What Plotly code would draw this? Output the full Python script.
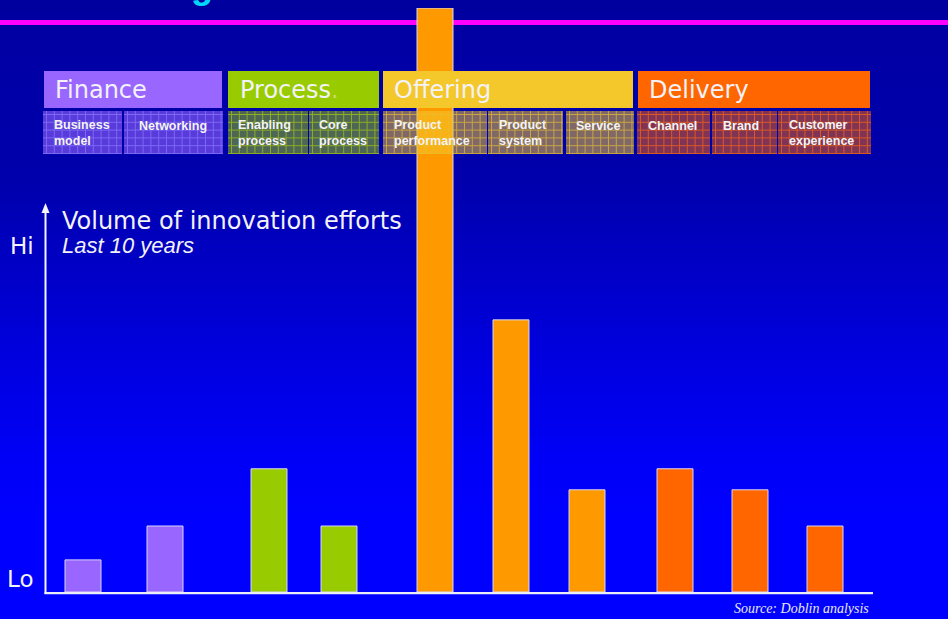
import plotly.graph_objects as go

# ---------------- data ----------------
groups = ["Finance", "Process", "Offering", "Delivery"]
group_types = [
    ["Business<br>model", "Networking"],
    ["Enabling<br>process", "Core<br>process"],
    ["Product<br>performance", "Product<br>system", "Service"],
    ["Channel", "Brand", "Customer<br>experience"],
]
# Volume of innovation efforts, last 10 years (relative units, Lo=0 .. top bar=100)
finance_vals = [5.5, 11.3]
process_vals = [21.1, 11.3]
offering_vals = [100.0, 46.6, 17.5]
delivery_vals = [21.1, 17.5, 11.3]
group_vals = [finance_vals, process_vals, offering_vals, delivery_vals]

axis_title = "Volume of innovation efforts"
axis_sub = "Last 10 years"
hi_label, lo_label = "Hi", "Lo"
source_text = "Source: Doblin analysis"

# ---------------- styles / layout ----------------
W, H = 948, 619
def px(x): return x / W
def py(y): return 1 - y / H

group_colors = ["#9966FF", "#99CC00", "#F4C82A", "#FF6600"]
bar_colors = ["#9966FF", "#99CC00", "#FF9900", "#FF6600"]
grid_colors = ["#8C7CFF", "#A8CC10", "#E8C030", "#FF6A10"]
sub_fill = ["rgba(153,102,255,0.58)", "rgba(153,204,0,0.50)",
            "rgba(244,200,42,0.52)", "rgba(255,102,0,0.50)"]

# plot x-domains (pixels) for each group subplot, bar width in category units
dom_px = [(42, 206), (234, 374), (397, 625), (637.5, 862.5)]
bar_w = [36 / 82, 36 / 70, 36 / 76, 36 / 75]
y_dom = [py(592), py(8)]

# header boxes and sub boxes (pixels)
head_px = [(44, 222), (228, 379), (383, 633), (638, 870)]
head_y = (71, 108)
head_text_x = [55, 240, 394, 649]
sub_px = [
    [(43, 122), (124, 223)],
    [(228, 308), (309, 379)],
    [(383, 487), (488, 563), (566, 634)],
    [(637, 710), (712, 777), (778, 871)],
]
sub_y = (111, 154)
sub_text_x = [[54, 139], [238, 319], [394, 499, 576], [648, 723, 789]]

fig = go.Figure()

# bars
for i, (cats, vals) in enumerate(zip(group_types, group_vals)):
    sfx = "" if i == 0 else str(i + 1)
    fig.add_trace(go.Bar(
        x=cats, y=vals, xaxis="x" + sfx, yaxis="y" + sfx,
        width=bar_w[i],
        marker=dict(color=bar_colors[i], line=dict(color="#D8D4F4", width=1)),
        hoverinfo="x+y",
    ))

layout = dict(
    width=W, height=H, margin=dict(l=0, r=0, t=0, b=0),
    paper_bgcolor="#0000FF", plot_bgcolor="rgba(0,0,0,0)",
    showlegend=False,
)
for i in range(4):
    sfx = "" if i == 0 else str(i + 1)
    n = len(group_types[i])
    layout["xaxis" + sfx] = dict(
        domain=[px(dom_px[i][0]), px(dom_px[i][1])], type="category",
        range=[-0.5, n - 0.5], visible=False, anchor="y" + sfx,
        categoryorder="array", categoryarray=group_types[i])
    layout["yaxis" + sfx] = dict(
        domain=y_dom, range=[0, 100], visible=False, anchor="x" + sfx)
fig.update_layout(**layout)

shapes = []
# background gradient
stops = [(0, 158), (60, 166), (180, 172), (260, 196), (360, 224), (460, 247), (525, 255), (620, 255)]
def blue_at(y):
    for (y0, b0), (y1, b1) in zip(stops[:-1], stops[1:]):
        if y0 <= y <= y1:
            return b0 + (b1 - b0) * (y - y0) / (y1 - y0)
    return 255
step = 4
for y in range(0, 620, step):
    b = int(round(blue_at(y + step / 2)))
    shapes.append(dict(type="rect", xref="paper", yref="paper", layer="below",
                       x0=0, x1=1, y0=py(y + step), y1=py(y),
                       fillcolor=f"rgb(0,0,{b})", line=dict(width=0)))
# magenta rule
shapes.append(dict(type="rect", xref="paper", yref="paper", layer="below",
                   x0=0, x1=1, y0=py(25), y1=py(20),
                   fillcolor="#FF00FF", line=dict(width=0)))

# header boxes
for i, (x0, x1) in enumerate(head_px):
    shapes.append(dict(type="rect", xref="paper", yref="paper", layer="above",
                       x0=px(x0), x1=px(x1), y0=py(head_y[1]), y1=py(head_y[0]),
                       fillcolor=group_colors[i], line=dict(width=0)))
# sub boxes with grid
for i, boxes in enumerate(sub_px):
    for (x0, x1) in boxes:
        y0, y1 = sub_y
        shapes.append(dict(type="rect", xref="paper", yref="paper", layer="above",
                           x0=px(x0), x1=px(x1), y0=py(y1), y1=py(y0),
                           fillcolor=sub_fill[i], line=dict(width=0)))
        segs = []
        gx = x0 + 3.5
        while gx < x1:
            segs.append(f"M{px(gx):.5f},{py(y0):.5f} L{px(gx):.5f},{py(y1):.5f}")
            gx += 7.8
        gy = y0 + 3.5
        while gy < y1:
            segs.append(f"M{px(x0):.5f},{py(gy):.5f} L{px(x1):.5f},{py(gy):.5f}")
            gy += 7.8
        shapes.append(dict(type="path", xref="paper", yref="paper", layer="above",
                           path=" ".join(segs),
                           line=dict(color=grid_colors[i], width=1), opacity=0.7))

# axes lines
shapes.append(dict(type="line", xref="paper", yref="paper", layer="above",
                   x0=px(44.5), x1=px(873), y0=py(593.2), y1=py(593.2),
                   line=dict(color="#ECECF8", width=2.2)))
shapes.append(dict(type="line", xref="paper", yref="paper", layer="above",
                   x0=px(45.5), x1=px(45.5), y0=py(594), y1=py(210),
                   line=dict(color="#F4F4FF", width=2)))
shapes.append(dict(type="path", xref="paper", yref="paper", layer="above",
                   path=f"M{px(45.5)},{py(203)} L{px(41.5)},{py(213)} L{px(49.5)},{py(213)} Z",
                   fillcolor="#F4F4FF", line=dict(width=0)))
fig.update_layout(shapes=shapes)

ann = []
def text(x, y, s, size, family, color="#F2F2F8", xanchor="left", yanchor="middle", align="left"):
    ann.append(dict(x=px(x), y=py(y), xref="paper", yref="paper", text=s,
                    showarrow=False, xanchor=xanchor, yanchor=yanchor, align=align,
                    font=dict(size=size, family=family, color=color)))

# cut-off title descender
text(202, 8, "<b>g</b>", 36, "Liberation Sans", color="#00D8F8", xanchor="center", yanchor="bottom")

head_labels = [groups[0], groups[1] + "<span style='color:#C8D860'>.</span>", groups[2], groups[3]]
for i, lab in enumerate(head_labels):
    text(head_text_x[i] - 2, 90, lab, 24, "DejaVu Sans")
for i, labs in enumerate(group_types):
    for j, lab in enumerate(labs):
        two = "<br>" in lab
        text(sub_text_x[i][j] - 2, 133.5 if two else 126, "<b>" + lab + "</b>", 12.5,
             "Liberation Sans", color="#F4F4F4")

text(60, 221, axis_title, 24, "DejaVu Sans")
text(60, 246, "<i>" + axis_sub + "</i>", 22, "Liberation Sans")
text(8, 246, hi_label, 23, "DejaVu Sans")
text(5, 579, lo_label, 23, "DejaVu Sans")
text(871, 608, "<i>" + source_text + "</i>", 14, "Liberation Serif", color="#E8E8F4", xanchor="right")
fig.update_layout(annotations=ann)

fig.write_html("out.html", config={"displayModeBar": False},
               post_script="document.body.style.margin='0';document.body.style.overflow='hidden';")
